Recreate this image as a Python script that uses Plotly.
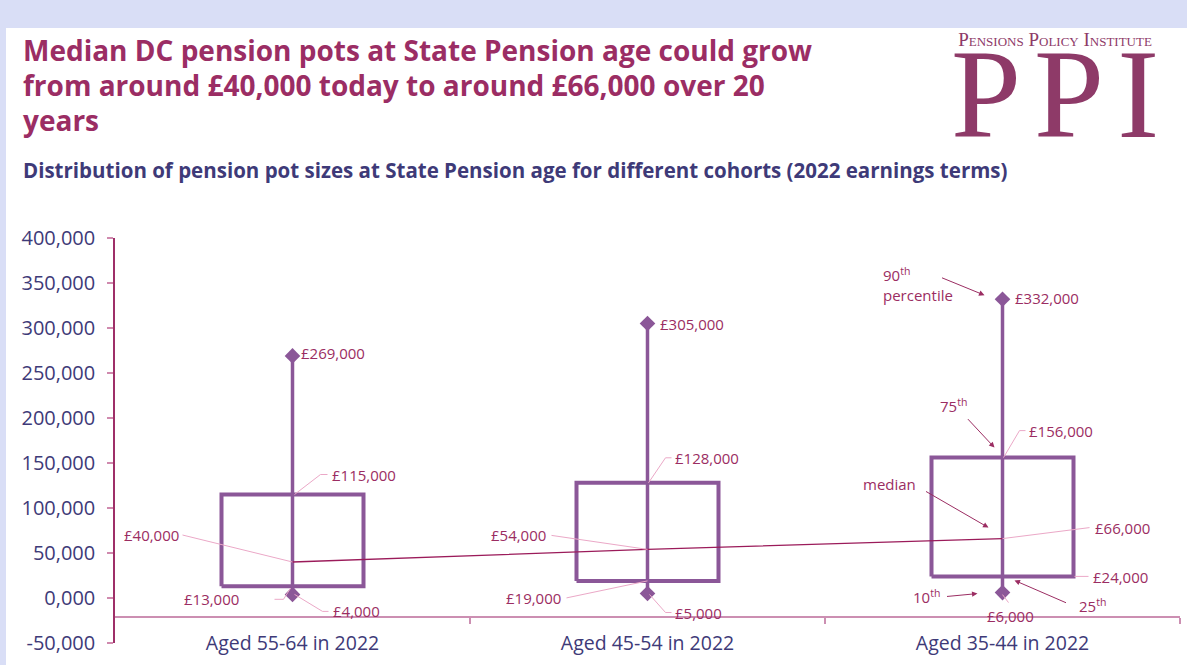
import plotly.graph_objects as go

# ---- data -----------------------------------------------------------------
categories = ["Aged 55-64 in 2022", "Aged 45-54 in 2022", "Aged 35-44 in 2022"]
p10 = [4000, 5000, 6000]
p25 = [13000, 19000, 24000]
median = [40000, 54000, 66000]
p75 = [115000, 128000, 156000]
p90 = [269000, 305000, 332000]

y_tickvals = [-50000, 0, 50000, 100000, 150000, 200000, 250000, 300000, 350000, 400000]
y_ticktext = ["-50,000", "0,000", "50,000", "100,000", "150,000", "200,000",
              "250,000", "300,000", "350,000", "400,000"]

title_lines = ["Median DC pension pots at State Pension age could grow",
               "from around £40,000 today to around £66,000 over 20",
               "years"]
subtitle_text = ("Distribution of pension pot sizes at State Pension age for different "
                 "cohorts (2022 earnings terms)")

# ---- layout geometry ------------------------------------------------------
W, H = 1187, 665
L, R, T, B = 115, 7, 238, 22
X_RANGE = [-0.5, 2.5]
Y_RANGE = [-50000, 400000]
PX_PER_X = (W - L - R) / (X_RANGE[1] - X_RANGE[0])
PX_PER_Y = (H - T - B) / (Y_RANGE[1] - Y_RANGE[0])
AXIS_Y = -21000  # where the category axis crosses

BOX_HALF = 0.2

PURPLE = "#8B5798"
MAGENTA = "#9B2D62"
LEADER = "#EBA8C7"
NAVY = "#3E3A78"
FONT = "'Open Sans', Lato, sans-serif"


def paper_x(px):
    return (px - L) / (W - L - R)


def paper_y(py):
    return (H - B - py) / (H - T - B)


def off(c, v, dx, dy):
    """Data coordinates of a pixel offset (dx right, dy down) from point (c, v)."""
    return c + dx / PX_PER_X, v - dy / PX_PER_Y


fig = go.Figure()

# white panel over the lavender page
fig.add_shape(type="rect", xref="paper", yref="paper", layer="below",
              x0=paper_x(6), x1=paper_x(W + 5), y0=paper_y(H + 5), y1=paper_y(28),
              fillcolor="white", line_width=0)

# category axis line (crossing below zero)
fig.add_shape(type="line", xref="x", yref="y", layer="below",
              x0=X_RANGE[0], x1=X_RANGE[1], y0=AXIS_Y, y1=AXIS_Y,
              line=dict(color="#CC8FB2", width=2))

# ---- boxes, whiskers, markers ---------------------------------------------
for i in range(len(categories)):
    fig.add_trace(go.Scatter(
        x=[i - BOX_HALF, i + BOX_HALF, i + BOX_HALF, i - BOX_HALF, i - BOX_HALF],
        y=[p25[i], p25[i], p75[i], p75[i], p25[i]],
        mode="lines", line=dict(color=PURPLE, width=4),
        hoverinfo="skip", showlegend=False))
    fig.add_trace(go.Scatter(
        x=[i, i], y=[p10[i], p90[i]],
        mode="lines", line=dict(color=PURPLE, width=3.5),
        hoverinfo="skip", showlegend=False))

fig.add_trace(go.Scatter(
    x=list(range(len(categories))) * 2, y=p10 + p90,
    mode="markers", marker=dict(symbol="diamond", size=12, color=PURPLE),
    hoverinfo="skip", showlegend=False))

# median trend line
fig.add_trace(go.Scatter(
    x=list(range(len(categories))), y=median,
    mode="lines", line=dict(color="#9B1B5A", width=1.3),
    hoverinfo="skip", showlegend=False))

# ---- value labels with leader lines ---------------------------------------
# (cohort, series, text offset dx, dy, anchor, leader path as pixel offsets)
label_specs = [
    # 55-64
    (0, p90, 6, -3, "left", None),
    (0, p75, 37, -20, "left", [(2, 0), (28, -20), (35, -20)]),
    (0, median, -112, -27, "right", [(-110, -27), (0, 0)]),
    (0, p25, -52, 13, "right", [(-18, 13), (-9, 13), (-2, 2)]),
    (0, p10, 38, 17, "left", [(2, 0), (30, 17), (36, 17)]),
    # 45-54
    (1, p90, 10, 0, "left", None),
    (1, p75, 25, -25, "left", [(1, 0), (18, -25), (24, -25)]),
    (1, median, -100, -14, "right", [(-96, -14), (0, 0)]),
    (1, p25, -85, 17, "right", [(-81, 17), (0, 0)]),
    (1, p10, 25, 19, "left", [(2, 1), (18, 19), (24, 19)]),
    # 35-44
    (2, p90, 10, -1, "left", None),
    (2, p75, 24, -27, "left", [(1, 0), (17, -27), (23, -27)]),
    (2, median, 90, -11, "left", [(0, 0), (87, -11)]),
    (2, p25, 88, 1, "left", [(72, 0), (86, 0)]),
    (2, p10, 8, 23, "center", [(0, 2), (6, 10)]),
]

for c, series, dx, dy, anchor, leader in label_specs:
    v = series[c]
    fig.add_annotation(x=c, y=v, xref="x", yref="y", xshift=dx, yshift=-dy,
                       text=f"£{v:,}", showarrow=False, xanchor=anchor, yanchor="middle",
                       font=dict(family=FONT, size=15, color=MAGENTA))
    if leader:
        pts = [off(c, v, a, b) for a, b in leader]
        path = "M " + " L ".join(f"{x},{y}" for x, y in pts)
        fig.add_shape(type="path", xref="x", yref="y", path=path,
                      line=dict(color=LEADER, width=1))

# ---- explanatory callouts on the youngest cohort --------------------------
c = 2
callouts = [
    # text, ref series, text dx, dy, arrow head (dx, dy), arrow tail (dx, dy)
    ("90<sup>th</sup><br>percentile", p90, -122, -15, (-18, -4), (-62, -22)),
    ("75<sup>th</sup>", p75, -65, -52, (-8, -10), (-36, -40)),
    ("median", median, -142, -55, (-14, -11), (-78, -48)),
    ("25<sup>th</sup>", p25, 74, 29, (12, 4), (65, 27)),
    ("10<sup>th</sup>", p10, -92, 4, (-25, 1), (-57, 4)),
]
for text, series, tdx, tdy, head, tail in callouts:
    v = series[c]
    fig.add_annotation(x=c, y=v, xref="x", yref="y", xshift=tdx, yshift=-tdy,
                       text=text, showarrow=False, xanchor="left", yanchor="middle",
                       align="left", font=dict(family=FONT, size=15, color=MAGENTA))
    hx, hy = off(c, v, head[0], head[1])
    fig.add_annotation(x=hx, y=hy, xref="x", yref="y", text="",
                       showarrow=True, arrowhead=2, arrowsize=1.1, arrowwidth=1,
                       arrowcolor=MAGENTA, ax=tail[0] - head[0], ay=tail[1] - head[1])

# ---- titles ---------------------------------------------------------------
for k, line in enumerate(title_lines):
    fig.add_annotation(xref="paper", yref="paper", x=paper_x(21), y=paper_y(50 + 35 * k),
                       xanchor="left", yanchor="middle", align="left", showarrow=False,
                       text=f"<b>{line}</b>",
                       font=dict(family=FONT, size=28, color="#9B2D64"))
fig.add_annotation(xref="paper", yref="paper", x=paper_x(21), y=paper_y(170),
                   xanchor="left", yanchor="middle", align="left", showarrow=False,
                   text=f"<b>{subtitle_text}</b>",
                   font=dict(family=FONT, size=20.5, color=NAVY))

# ---- logo (one text block: small-caps name above large spaced initials) ----
LOGO = "#8E3A68"
SERIF = "'Liberation Serif', 'DejaVu Serif', serif"
logo_text = ("<span style='font-size:19px;font-variant:small-caps'>Pensions Policy Institute</span>"
             "<br><span style='font-size:126px;letter-spacing:13px'>PP</span>"
             "<span style='font-size:126px'>I</span>")
fig.add_annotation(xref="paper", yref="paper", x=paper_x(1055), y=paper_y(166),
                   xanchor="center", yanchor="bottom", align="center", showarrow=False,
                   text=logo_text, font=dict(family=SERIF, size=70, color=LOGO))

# ---- axes -----------------------------------------------------------------
fig.update_xaxes(
    range=X_RANGE, tickmode="array", tickvals=list(range(len(categories))),
    ticktext=categories, ticks="", showgrid=False, zeroline=False, showline=False,
    anchor="free", position=(H - B - 617) / (H - T - B),
    tickfont=dict(family=FONT, size=19.5, color=NAVY), ticklabelstandoff=12,
    minor=dict(tickmode="array", tickvals=[0.5, 1.5, 2.5], ticks="outside",
               ticklen=6, tickcolor="#CC8FB2", tickwidth=2),
    fixedrange=True,
)
fig.update_yaxes(
    range=Y_RANGE, tickmode="array", tickvals=y_tickvals, ticktext=y_ticktext,
    ticks="outside", ticklen=6, tickcolor="#D08AAE", tickwidth=2,
    showline=True, linecolor="#9E2F68", linewidth=1.5,
    showgrid=False, zeroline=False, ticklabelstandoff=8,
    tickfont=dict(family=FONT, size=20, color=NAVY),
    fixedrange=True,
)

fig.update_layout(
    width=W, height=H, margin=dict(l=L, r=R, t=T, b=B),
    paper_bgcolor="#D9DEF6", plot_bgcolor="white",
    showlegend=False, font=dict(family=FONT),
)

fig.write_html("out.html")
